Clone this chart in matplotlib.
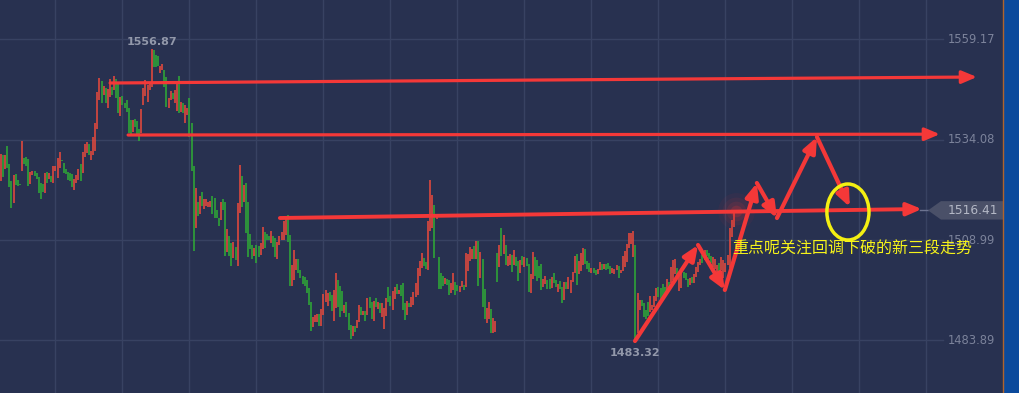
import numpy as np
import matplotlib
matplotlib.use("Agg")
import matplotlib.pyplot as plt
from matplotlib.patches import Ellipse, Polygon, Rectangle
from matplotlib.lines import Line2D
from matplotlib.transforms import blended_transform_factory

## Bar data (high / low / colour), split in chunks
seg_a_high = [1530.5, 1530.25, 1530.25, 1532.5, 1528, 1523.75, 1525.25, 1525.5, 1524, 1523,
              1533.75, 1529.5, 1529.75, 1529.25, 1526, 1526.25, 1526.25, 1525.75, 1524.75, 1523.25,
              1523, 1525.75, 1526, 1525.75, 1525, 1527.5, 1527.5, 1529.5, 1531, 1529,
              1528.25, 1526.75, 1526, 1525.75, 1525.5, 1524.25, 1525.25, 1526.75, 1528, 1531,
              1533, 1533.5, 1533, 1531.25, 1534.75, 1538.25, 1546, 1549.5, 1548.75, 1547.5,
              1547, 1546.75, 1549.25, 1547.25, 1550, 1549.25, 1548.5, 1544.75, 1545, 1543.25]
seg_a_low = [1523.75, 1524.75, 1526.75, 1527, 1522.25, 1517, 1518.25, 1522.75, 1522.5, 1522.75,
             1526.25, 1528, 1527.5, 1522.5, 1523, 1525.25, 1525, 1524.25, 1520.75, 1519.25,
             1521, 1520.75, 1523.25, 1524.25, 1523.5, 1523.25, 1526.25, 1524.5, 1527, 1528.75,
             1525.75, 1525.5, 1524, 1523.75, 1522.25, 1521.5, 1523.25, 1524, 1523.75, 1525.75,
             1529.75, 1530.75, 1530.25, 1529, 1530.25, 1531.25, 1536.75, 1544, 1543.25, 1545.25,
             1543.25, 1542, 1544.75, 1545.25, 1546.5, 1544.5, 1540.75, 1540, 1542.75, 1542]
seg_a_dir = "rgrggg rggg rgggrrgggg grgrgrrrrg gggggrrrgr rrgrrrrrgr grrgrggrgg"

seg_b_high = [1544, 1542, 1539, 1539, 1539.25, 1538.75, 1536.75, 1541.75, 1547, 1549,
              1547.75, 1548.25, 1556.87, 1556.5, 1555.25, 1555, 1552.5, 1553, 1551.5, 1549.75,
              1544.5, 1546.25, 1545.75, 1546.5, 1548.25, 1550, 1543.5, 1543.25, 1542.75, 1542,
              1544.5, 1538.25, 1527.5, 1522, 1518.5, 1520, 1521, 1519.25, 1519.25, 1518.5,
              1518.75, 1520, 1519.5, 1516.5, 1514.5, 1518.5, 1519.25, 1518.5, 1511.75, 1510,
              1508.25, 1508.5, 1507.25, 1518.25, 1527.75, 1525, 1522.75]
seg_b_low = [1541, 1535.75, 1535.25, 1536, 1537.25, 1535.5, 1533.75, 1535.75, 1542.75, 1545,
             1543.5, 1546.5, 1547.25, 1552.25, 1552.25, 1552.5, 1550.75, 1551.5, 1547.25, 1542.25,
             1542, 1544, 1544.25, 1543.25, 1541.25, 1540.75, 1541, 1540.75, 1538.25, 1540.25,
             1534.75, 1526.25, 1506.25, 1512, 1515, 1515.5, 1517.5, 1516.75, 1517.5, 1517.25,
             1517.25, 1515.5, 1514.5, 1514.5, 1512.5, 1514, 1516.5, 1505, 1506, 1505,
             1502.5, 1504.5, 1504, 1502.5, 1515.75, 1517.25, 1518.5]
seg_b_dir = "gggrgggrrr rrrgggrrgg rrgrrgrgrr gggrgrgrrr rggggrggrg grgrrgr"

seg_c_high = [1523.25, 1518.5, 1510.5, 1507.75, 1507, 1507.75, 1507.5, 1508.25, 1512.25, 1511,
              1510.5, 1510, 1511.25, 1510, 1509.5, 1508.5, 1510, 1511, 1513.75, 1514.75,
              1515.25, 1510.25, 1502.75, 1506.5, 1504.25, 1504.25, 1501.5, 1500, 1499.75, 1499,
              1497, 1493.5, 1489.75, 1490.25, 1490.5, 1490.5, 1491.75, 1495.5, 1496.5, 1495.75,
              1496, 1495.25, 1496.5, 1500.75, 1499, 1497.5, 1496.25, 1492.75, 1493.5, 1490.75,
              1487.75, 1487.5, 1487.5, 1489, 1492.75, 1492.25, 1491.25, 1491.25, 1494.5, 1494.75]
seg_c_low = [1510.75, 1504.75, 1506.75, 1504.25, 1505, 1503.25, 1504.75, 1505.25, 1506.75, 1507,
             1509, 1509, 1508.25, 1507.25, 1504.75, 1504.25, 1507.75, 1509, 1509, 1510.25,
             1508.5, 1497.5, 1497.5, 1499, 1501.5, 1500.75, 1499.5, 1498, 1497.5, 1495.75,
             1492.75, 1486.25, 1487.25, 1488.5, 1488.5, 1487.5, 1487.5, 1490.25, 1493.5, 1492.5,
             1493.75, 1491.25, 1488.75, 1492, 1492.25, 1489.75, 1491.25, 1490.75, 1489.75, 1486.5,
             1484.25, 1485, 1486, 1487, 1488.5, 1490.25, 1490.25, 1488.75, 1490.25, 1492]
seg_c_dir = "ggggrggrrg ggrggrrrrr ggrrrggggg ggrrrgrrrr ggrrgggrgg grgrrgrgrg"

seg_d_high = [1493.5, 1493.75, 1494.5, 1493.5, 1493.25, 1493.25, 1492, 1494.5, 1497.25, 1495,
              1496.25, 1497.25, 1498, 1496.5, 1497.75, 1498.25, 1493.25, 1493.75, 1493.25, 1494.75,
              1496, 1498.25, 1502, 1503.75, 1505.75, 1504.5, 1503.5, 1513.75, 1524, 1520.25,
              1517.75, 1515, 1504.75, 1500.75, 1500, 1499.5, 1499.25, 1499, 1498.25, 1500.75,
              1498.5, 1497.75, 1497.5, 1498.75, 1497.75, 1505.75, 1505.5, 1507.25, 1506.75, 1507.5,
              1508.75, 1508.75, 1506, 1504.25, 1496.75, 1492, 1493.5, 1491.75, 1489.5, 1488.75]
seg_d_low = [1489.25, 1488.75, 1492.25, 1491.75, 1490.75, 1489.75, 1486.75, 1490, 1493.5, 1492.5,
             1491.5, 1494.25, 1495.5, 1495.5, 1495, 1491.5, 1489, 1490.25, 1492.25, 1492.25,
             1492.75, 1494.75, 1495.25, 1500, 1502, 1502.5, 1501.75, 1501.5, 1511.25, 1512,
             1504.5, 1514.25, 1496.75, 1496.75, 1497.5, 1498, 1497.75, 1495.25, 1495.75, 1496.5,
             1495.25, 1496.25, 1496, 1497.25, 1496.5, 1497.25, 1501.25, 1503.75, 1504.25, 1504.25,
             1504.25, 1497.5, 1499.5, 1492.25, 1489.25, 1488.25, 1489.25, 1485.75, 1485.75, 1486]
seg_d_dir = "grgrgrrrgg rrgrgggrgr rrrrrggrrr grgggrggrr ggrrgrrrrg rgrggrrgrr"

seg_e_high = [1505.75, 1507.75, 1512, 1510.25, 1507.75, 1505, 1505.5, 1505.25, 1506.5, 1504.75,
              1503.75, 1504, 1505, 1504.75, 1504.5, 1503, 1500.5, 1506, 1504.75, 1504,
              1502.5, 1503, 1499.25, 1500, 1499, 1499.25, 1499.75, 1500.75, 1499, 1498,
              1498.75, 1497.25, 1498.5, 1498.5, 1499.75, 1499, 1501, 1505, 1505.5, 1503.75,
              1505.75, 1507, 1506.75, 1503.75, 1503.25, 1502, 1502, 1501.5, 1501.75, 1503.5,
              1503, 1503, 1503, 1503.25, 1502.5, 1502, 1501.75, 1502.75, 1502.5, 1501.5,
              1505, 1506.25, 1508, 1510.75, 1510.75, 1511.25]
seg_e_low = [1498.5, 1502.25, 1505, 1505.5, 1502.75, 1502.5, 1502.75, 1501, 1502.75, 1502.5,
             1498.75, 1500.75, 1502.75, 1502.25, 1502.5, 1496, 1495.75, 1499.25, 1500, 1498.75,
             1499.5, 1496.5, 1497.25, 1498, 1496.75, 1496.75, 1497, 1498.25, 1497.25, 1496,
             1496.75, 1493.25, 1494, 1496.75, 1496.75, 1495.75, 1498.5, 1500.75, 1497.75, 1500.5,
             1501.25, 1502.75, 1503, 1501.75, 1501, 1500.75, 1500.75, 1500.25, 1500.5, 1501.5,
             1501.5, 1501.75, 1501.5, 1501.75, 1500.5, 1500.75, 1500.5, 1501.5, 1499.5, 1500.75,
             1501.25, 1502.25, 1503.5, 1507, 1508, 1504.75]
seg_e_dir = "grgrgrrgrg grgrggrrgg ggrrggrggr ggrgrrrrgr rrgggrggrr grgggrrrgr rrrrrr"

seg_f_high = [1507.75, 1495.75, 1494, 1494, 1493.25, 1491.5, 1493.5, 1495, 1492.75, 1495,
              1497, 1497.25, 1497, 1498, 1497.25, 1499.25, 1498.5, 1502.25, 1504, 1504.25,
              1502, 1500, 1501.5, 1501, 1500.75, 1499.25, 1499.5, 1499.75, 1500.5, 1502.25,
              1503.5, 1504.25, 1505.25, 1506.5, 1506.5, 1505.75, 1505, 1504.75, 1504.25, 1502.75,
              1503.25, 1504.75, 1504, 1503.25, 1505.25, 1512, 1514, 1516.5, 1516.5]
seg_f_low = [1483.32, 1485.75, 1491.5, 1492.5, 1489.75, 1489.25, 1490, 1491, 1491.5, 1492.25,
             1493.75, 1494.75, 1493.5, 1494.5, 1494.75, 1495.75, 1497.25, 1498.25, 1499, 1500.5,
             1500, 1496.25, 1497, 1499.5, 1499, 1497.25, 1497.75, 1498.25, 1498.25, 1499.75,
             1501, 1502.75, 1503.25, 1504, 1505, 1504.25, 1503.25, 1502.25, 1501.75, 1500.75,
             1499.75, 1501.5, 1499.5, 1501, 1502.75, 1502, 1509.75, 1512.25, 1515.75]
seg_f_dir = "grrggggrrr rggggrgrrr grrgggrgrr rrgrgggrrr grrrrrrrr"

price_ticks = [1559.17, 1534.08, 1508.99, 1483.89]
last_price = 1516.41
note_text = "重点呢关注回调下破的新三段走势"

## Hand-drawn marks on the chart (bar index, price)
level_lines = [((52.1, 1548.25), (466.1, 1549.75), 2.3),
               ((60.7, 1535.25), (448.4, 1535.45), 2.3),
               ((133.2, 1514.5), (439.8, 1516.75), 2.8)]
zigzag = [(302.8, 1483.75), (332.9, 1507.75), (345.7, 1496.5), (361.0, 1523.25),
          (370.6, 1514.5), (389.7, 1534.75), (405.4, 1517.25)]

highs = np.array(seg_a_high + seg_b_high + seg_c_high + seg_d_high + seg_e_high + seg_f_high)
lows = np.array(seg_a_low + seg_b_low + seg_c_low + seg_d_low + seg_e_low + seg_f_low)
dirs = (seg_a_dir + seg_b_dir + seg_c_dir + seg_d_dir + seg_e_dir + seg_f_dir).replace(" ", "")
idx = np.arange(len(highs))

BG = "#283150"
GRID = "#384262"
UP = "#ee4b3c"
DOWN = "#2fae35"
MARK = "#f43838"

fig = plt.figure(figsize=(10.19, 3.93), dpi=100)
fig.patch.set_facecolor(BG)
ax = fig.add_axes([0, 0, 1, 1])
ax.set_facecolor(BG)
ax.set_xlim(-0.48, 486.2)
ax.set_ylim(1470.75, 1569)
ax.set_xticks([])
ax.set_yticks([])
for s in ax.spines.values():
    s.set_visible(False)

## grid
for k in range(14):
    ax.axvline(25.8 + 32 * k, color=GRID, lw=1, zorder=0)
for p in price_ticks:
    ax.axhline(p, xmax=0.925, color=GRID, lw=1, zorder=0)

## bars
cols = [UP if c == "r" else DOWN for c in dirs]
ax.vlines(idx, lows, highs, colors=cols, lw=1.1, zorder=2)

## high / low labels
hi = int(np.argmax(highs))
lo = int(np.argmin(lows))
ax.annotate(f"{highs[hi]:.2f}", (hi, highs[hi]), xytext=(0, 4.7), textcoords="offset points",
            ha="center", va="center", color="#9298aa", fontsize=8, fontweight="bold", zorder=5)
ax.annotate(f"{lows[lo]:.2f}", (lo, lows[lo]), xytext=(0, -7.7), textcoords="offset points",
            ha="center", va="center", color="#9298aa", fontsize=8, fontweight="bold", zorder=5)

## red glow at the last bar
for s, a in [(700, 0.05), (400, 0.07), (200, 0.1), (70, 0.18)]:
    ax.scatter(351, 1516.3, s=s, color="#ff3030", alpha=a, lw=0, zorder=3)

## level lines with arrows
for start, end, w in level_lines:
    ax.annotate("", xy=end, xytext=start,
                arrowprops=dict(arrowstyle="-|>,head_length=0.9,head_width=0.38", color=MARK,
                                lw=w, shrinkA=0, shrinkB=0), zorder=4)

## zigzag path
for a, b in zip(zigzag[:-1], zigzag[1:]):
    ax.annotate("", xy=b, xytext=a,
                arrowprops=dict(arrowstyle="-|>,head_length=0.9,head_width=0.38", color=MARK,
                                lw=3, shrinkA=0, shrinkB=0), zorder=4)

ax.add_patch(Ellipse((404.5, 1516.0), 20.1, 14, fill=False, ec="#f4ef12", lw=2.5, zorder=5))

## right side price axis
tr = blended_transform_factory(ax.transAxes, ax.transData)
for p in price_ticks:
    ax.text(0.953, p, f"{p:.2f}", transform=tr, ha="center", va="center",
            color="#7c839b", fontsize=8.3, zorder=5)

ax.add_line(Line2D([0.903, 0.911], [last_price, last_price], transform=tr, color="#6c7390", lw=1, zorder=5))
tag = Polygon([(0.9107, last_price), (0.9234, last_price + 2.3), (0.9843, last_price + 2.3),
               (0.9843, last_price - 2.3), (0.9234, last_price - 2.3)],
              closed=True, transform=tr, fc="#4a5068", ec="none", zorder=5)
ax.add_patch(tag)
ax.text(0.9545, last_price, f"{last_price:.2f}", transform=tr, ha="center", va="center",
        color="#b4b8c6", fontsize=8.8, zorder=6)

ax.text(349.1, 1506.75, note_text, color="#f6f31a", fontsize=11.5,
        family=["Noto Sans CJK SC", "DejaVu Sans"], ha="left", va="center", zorder=7)

## right blue strip
fig.add_artist(Rectangle((1003 / 1019, 0), 16 / 1019, 1, transform=fig.transFigure,
                         fc="#0b4a9c", ec="none"))
fig.add_artist(Line2D([1003 / 1019, 1003 / 1019], [0, 1], transform=fig.transFigure,
                      color="#b0642c", lw=1))

fig.savefig("out.png", dpi=100, facecolor=BG)
